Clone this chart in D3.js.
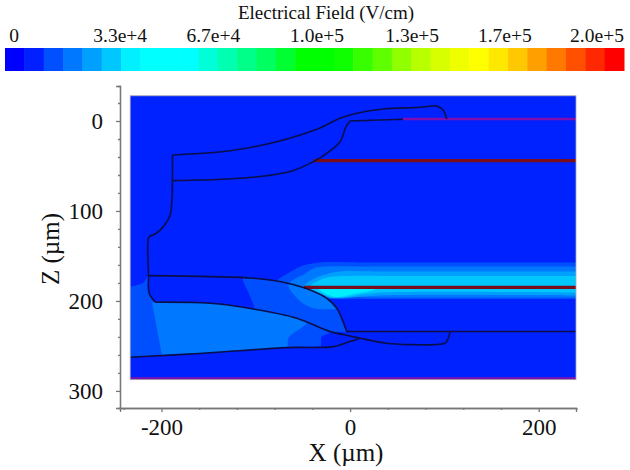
<!DOCTYPE html>
<html>
<head>
<meta charset="utf-8">
<script src="https://cdn.jsdelivr.net/npm/d3@7"></script>
<style>
    body { margin: 0; background: #fff; }
    text { font-family: "Liberation Serif", serif; fill: #111; }
</style>
</head>
<body>
<div id="chart"></div>
<script>
// legend
const legendColors = ['#0000ff', '#0020ff', '#0050ff', '#0078ff', '#00a0ff', '#00c8ff', '#00f0ff', '#00ffff',
    '#00ffff', '#00ffff', '#00ffd8', '#00ffb0', '#00ff88', '#00ff60', '#00ff30', '#00ff00',
    '#00ff00', '#10ff00', '#38ff00', '#60ff00', '#90ff00', '#b8ff00', '#d8ff00', '#f0ff00',
    '#ffff00', '#ffe800', '#ffc800', '#ffa000', '#ff7800', '#ff5000', '#ff2800', '#ff0000'];
const legendLabels = ['0', '3.3e+4', '6.7e+4', '1.0e+5', '1.3e+5', '1.7e+5', '2.0e+5'];
const labelNudge = [-12, -1, -3, 5.5, 5.5, 3, 0];

// axis ticks, um
const xMajor = [-200, 0, 200];
const xMinor = [-240, -160, -120, -80, -40, 40, 80, 120, 160, 240];
const zMajor = [0, 100, 200, 300];
const zMinor = [-20, 20, 40, 60, 80, 120, 140, 160, 180, 220, 240, 260, 280];

// field contours as [x, z] in um
const fieldMedium = [[-233.2,184.1],[-219.4,180],[-213.8,172.2],[-213.1,191.4],[-206.7,201.4],[-148.4,202.6],[-102.5,208.9],[-106,195.2],[-113.4,174.4],[-102.5,174.8],[-70.7,179.2],[-49.5,185.2],[-24.7,197],[-14.1,208.1],[-8.2,221],[-3.5,234.1],[-14.1,234.4],[-30,239.7],[-31,250],[-34,250.5],[-67.1,251.5],[-155.5,257.8],[-233.2,262.3]];
const fieldLight = [[-209.9,202.2],[-206.7,201.4],[-148.4,202.6],[-102.5,208.9],[-56.5,219.2],[-45.9,223.7],[-65.4,241.1],[-66.5,250.5],[-69,251.6],[-75,252],[-110,254.5],[-155.5,257.8],[-199.6,260]];
const ring1 = [[240,197.8],[20,197.8],[-18,197.8],[-24.7,197],[-49.5,185.2],[-70.7,179.2],[-77.4,177.8],[-63.6,167.8],[-49.8,160.6],[-31.8,157.2],[20,157.2],[240,157.2]];
const ring2 = [[240,196.1],[20,196.1],[-23.3,196.1],[-18,202.2],[-14.1,208.1],[-24.4,209.2],[-42.4,207],[-56.2,197],[-65.4,182.2],[-57.2,174.4],[-49.8,171.1],[-39.2,163.9],[-24.4,161.7],[20,161.7],[240,161.7]];
const ring3 = [[240,193.9],[31.8,193.9],[-10.6,197],[-21,196.7],[-37.1,191.1],[-47.7,186.7],[-49.8,184.4],[-37.1,174.4],[-24.4,170],[-10.6,167.2],[30,167.2],[240,167.2]];
const ring4 = [[240,191.1],[26.5,191.1],[-5.3,195.6],[-19,196.1],[-33.9,190],[-42.4,184.4],[-29.7,175.6],[-15.9,172.8],[0,172.2],[30,172.2],[240,172.2]];
const ring5 = [[-33.9,186.1],[-25.4,192.2],[-14,195.5],[0,193],[26.5,187],[-10.6,184.4]];

// device outline, [x, z] in um
const upperTop = [[-188.4,37.8],[-127.2,33],[-77.7,23],[-35.3,9.2],[-10.6,-3],[7.1,-8.6],[35,-13.3],[74.2,-15.2],[91.9,-16.7],[98.6,-12.2],[102.5,-2.2]];
const upperFloor = [[56,-2],[0,0]];
const upperBottom = [[0,0],[-4.2,6.3],[-10.6,23],[-24.7,35.9],[-38.9,45.2],[-61.8,55.6],[-88.3,60.8],[-130.7,64.4],[-188.4,66.3]];
const sideWall = [[-188.4,37.8],[-188.4,66.3],[-189,89.7],[-190.8,104.4],[-197.9,117.4],[-206.7,125.6],[-212,127.8],[-213.8,130],[-213.8,171.9],[-213.1,191.4],[-206.7,200.8]];
const lowerTop = [[-213.8,171.9],[-148.4,173],[-102.5,174.8],[-70.7,179.2],[-49.5,185.2],[-24.7,197],[-14.1,208.1],[-8.2,221],[-3.5,234.1]];
const lowerFloor = [[-3.5,234.1],[240,234.1]];
const lowerBottom = [[-206.7,201.4],[-148.4,202.6],[-102.5,208.9],[-56.5,219.2],[-21.2,234.1],[0,238.9],[10.6,241.4],[38.9,247],[66.8,248.6],[88,248.6],[101.4,246.3],[106,234.1]];
const substrateTop = [[-233.2,262.6],[-155.5,258.1],[-67.1,251.9],[-17.7,250.8],[0,245.2],[10.6,241.4]];

// electrodes
const redContacts = [[[-39,44],[240,44]], [[-49,185],[240,185]]];
const purpleContacts = [[[56,-2.2],[240,-2.2]], [[-233,286.4],[240,286.4]]];

const svg = d3.select('#chart').append('svg')
    .attr('width', 630)
    .attr('height', 470);

// the source image is a bit soft
svg.append('filter').attr('id', 'soft')
    .append('feGaussianBlur').attr('stdDeviation', 0.45);

// color bar
const barX = d3.scaleBand().domain(d3.range(legendColors.length)).range([5, 624]);
svg.append('g').selectAll('rect')
    .data(legendColors)
    .enter().append('rect')
    .attr('x', (d, i) => barX(i))
    .attr('y', 48)
    .attr('width', barX.bandwidth() + 0.5)
    .attr('height', 23)
    .attr('fill', d => d);

const labelX = d3.scalePoint().domain(legendLabels).range([26, 597]);
svg.append('g').selectAll('text')
    .data(legendLabels)
    .enter().append('text')
    .attr('x', (d, i) => labelX(d) + labelNudge[i])
    .attr('y', 42)
    .attr('text-anchor', 'middle')
    .attr('font-size', 19.5)
    .text(d => d);

svg.append('text')
    .attr('x', 326)
    .attr('y', 19)
    .attr('text-anchor', 'middle')
    .attr('font-size', 19)
    .text('Electrical Field (V/cm)');

// scales: 0 at x=350 and z=121
const x = d3.scaleLinear().domain([-244, 239.6]).range([120, 576]);
const y = d3.scaleLinear().domain([-38.9, 319]).range([86, 408]);

const line = d3.line().x(d => x(d[0])).y(d => y(d[1]));
const smooth = d3.line().x(d => x(d[0])).y(d => y(d[1])).curve(d3.curveCatmullRom.alpha(0.5));

svg.append('clipPath').attr('id', 'plot-clip').append('rect')
    .attr('x', x(-233.2)).attr('y', y(-28))
    .attr('width', x(239.6) - x(-233.2)).attr('height', y(287.5) - y(-28));

const plot = svg.append('g').attr('clip-path', 'url(#plot-clip)');
const inner = plot.append('g').attr('filter', 'url(#soft)');

inner.append('rect')
    .attr('x', x(-240)).attr('y', y(-35))
    .attr('width', x(250) - x(-240)).attr('height', y(295) - y(-35))
    .attr('fill', '#0020ff');

// field regions, outer to inner
const regions = [
    [fieldMedium, '#0050ff'], [fieldLight, '#0078ff'],
    [ring1, '#0050ff'], [ring2, '#0078ff'], [ring3, '#00a0ff'], [ring4, '#00c8ff'], [ring5, '#00f0ff']
];
regions.forEach(r => {
    inner.append('path').attr('d', smooth(r[0]) + 'Z').attr('fill', r[1]);
});

purpleContacts.forEach(c => {
    inner.append('path').attr('d', line(c)).attr('stroke', '#8010b0').attr('stroke-width', 2.6).attr('fill', 'none');
});
redContacts.forEach(c => {
    inner.append('path').attr('d', line(c)).attr('stroke', '#7a0a1a').attr('stroke-width', 3.2).attr('fill', 'none');
});

[upperTop, upperBottom, sideWall, lowerTop, lowerBottom, substrateTop].forEach(c => {
    inner.append('path')
        .attr('d', smooth(c))
        .attr('fill', 'none')
        .attr('stroke', '#08104a')
        .attr('stroke-width', 1.6);
});
[upperFloor, lowerFloor].forEach(c => {
    inner.append('path')
        .attr('d', line(c))
        .attr('fill', 'none')
        .attr('stroke', '#08104a')
        .attr('stroke-width', 1.5);
});

svg.append('rect')
    .attr('x', x(-233.2)).attr('y', y(-28))
    .attr('width', x(239.6) - x(-233.2)).attr('height', y(287.5) - y(-28))
    .attr('fill', 'none')
    .attr('stroke', '#aaa')
    .attr('stroke-width', 0.8);

// axes
const xAxis = svg.append('g').attr('transform', 'translate(0,408)')
    .call(d3.axisBottom(x).tickValues(xMajor).tickFormat(d => String(d)).tickSize(4).tickPadding(7));
const xMinorAxis = svg.append('g').attr('transform', 'translate(0,408)')
    .call(d3.axisBottom(x).tickValues(xMinor).tickFormat('').tickSize(2));
const yAxis = svg.append('g').attr('transform', 'translate(120,0)')
    .call(d3.axisLeft(y).tickValues(zMajor).tickFormat(d => String(d)).tickSize(4).tickPadding(13));
const yMinorAxis = svg.append('g').attr('transform', 'translate(120,0)')
    .call(d3.axisLeft(y).tickValues(zMinor).tickFormat('').tickSize(2));

[xAxis, xMinorAxis, yAxis, yMinorAxis].forEach(a => {
    a.selectAll('path, line').attr('stroke', '#777').attr('stroke-width', 1.3);
    a.selectAll('text').attr('font-size', 23).attr('font-family', '"Liberation Serif", serif').attr('fill', '#111');
});

svg.append('text')
    .attr('x', 346)
    .attr('y', 461)
    .attr('text-anchor', 'middle')
    .attr('font-size', 25)
    .text('X (µm)');

svg.append('text')
    .attr('transform', 'translate(59,249) rotate(-90)')
    .attr('text-anchor', 'middle')
    .attr('font-size', 25)
    .text('Z (µm)');
</script>
</body>
</html>
